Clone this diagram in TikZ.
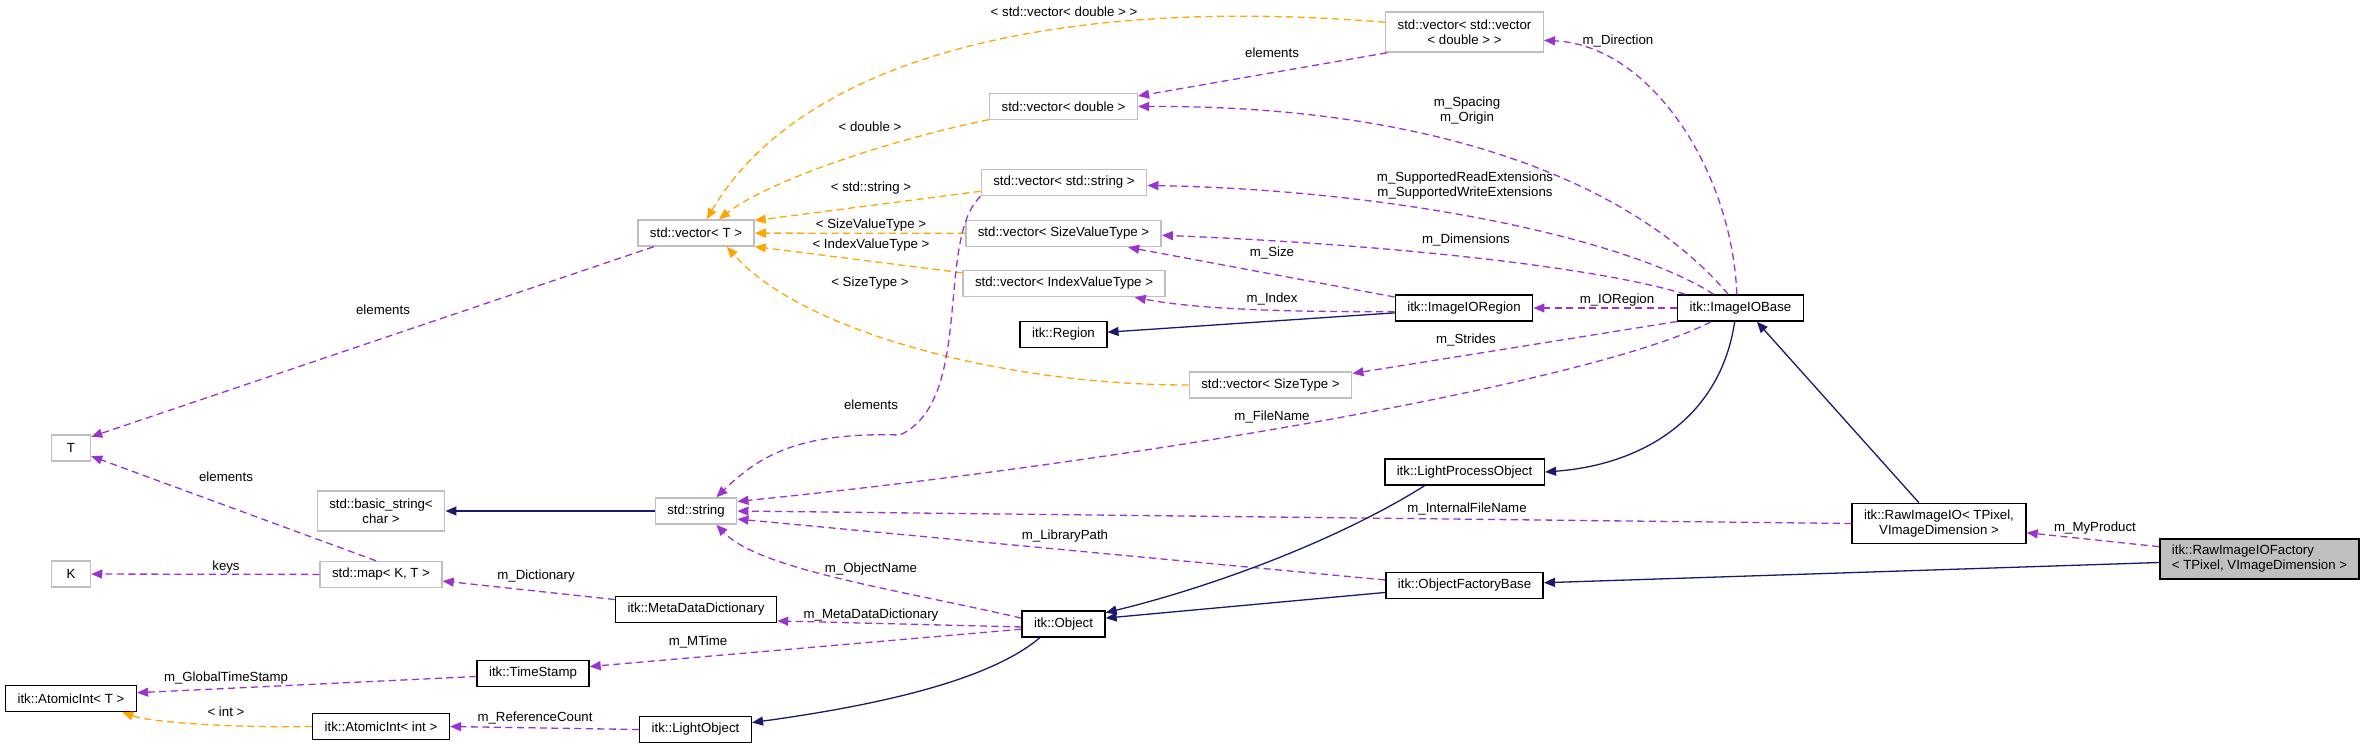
\documentclass[tikz,border=0pt]{standalone}
\usepackage{fontspec}
\setmainfont{Liberation Sans}
\usetikzlibrary{arrows.meta}
\definecolor{memcol}{HTML}{9A32CD}
\definecolor{tplcol}{HTML}{FFA500}
\definecolor{inhcol}{HTML}{191970}
\definecolor{boxgray}{HTML}{BFBFBF}
\tikzset{
    box/.style={draw=black, line width=1.5pt, minimum height=26pt, inner xsep=12pt, inner ysep=3pt},
    stdbox/.style={box, draw=boxgray},
    twoline/.style={align=center, minimum height=40pt},
    lbl/.style={inner sep=1pt, align=center},
    member/.style={draw=memcol, line width=1.3pt, dash pattern=on 7pt off 4.5pt, -{Triangle[length=11pt, width=9pt]}},
    tmpl/.style={draw=tplcol, line width=1.3pt, dash pattern=on 7pt off 4.5pt, -{Triangle[length=11pt, width=9pt]}},
    inherit/.style={draw=inhcol, line width=1.3pt, -{Triangle[length=11pt, width=9pt]}}
}

\begin{document}
\begin{tikzpicture}[x=1pt, y=-1pt, every node/.style={font=\fontsize{13.25}{15}\selectfont}]
    \useasboundingbox (0,0) rectangle (2364,748);

    \node[stdbox, twoline] (vecvec) at (1464.5,32) {std::vector< std::vector\\< double > >};
    \node[stdbox] (vecdbl) at (1063.5,106.5) {std::vector< double >};
    \node[stdbox] (vecstr) at (1064,182.5) {std::vector< std::string >};
    \node[stdbox] (vecsvt) at (1063.5,233.5) {std::vector< SizeValueType >};
    \node[stdbox] (vecivt) at (1064,283.5) {std::vector< IndexValueType >};
    \node[box] (region) at (1063.5,334.5) {itk::Region};
    \node[stdbox] (vecst) at (1270.5,385) {std::vector< SizeType >};
    \node[stdbox] (vecT) at (696,233) {std::vector< T >};
    \node[stdbox, minimum width=39pt] (tparam) at (71,448) {T};
    \node[stdbox, minimum width=39pt] (kparam) at (71,574) {K};
    \node[stdbox, twoline] (bstr) at (381,511) {std::basic\_string<\\char >};
    \node[stdbox] (str) at (696,511) {std::string};
    \node[stdbox] (map) at (381,574.5) {std::map< K, T >};
    \node[box] (mdd) at (696,609.5) {itk::MetaDataDictionary};
    \node[box] (ts) at (533,673.5) {itk::TimeStamp};
    \node[box] (aiT) at (71,698.5) {itk::AtomicInt< T >};
    \node[box] (aiint) at (381,726.5) {itk::AtomicInt< int >};
    \node[box] (lobj) at (695.5,729.5) {itk::LightObject};
    \node[box] (obj) at (1063.5,624) {itk::Object};
    \node[box] (ioregion) at (1464,308) {itk::ImageIORegion};
    \node[box] (iobase) at (1740.5,308) {itk::ImageIOBase};
    \node[box] (lpo) at (1464.5,472) {itk::LightProcessObject};
    \node[box] (ofb) at (1464.5,585.5) {itk::ObjectFactoryBase};
    \node[box, twoline] (rawio) at (1939,523.5) {itk::RawImageIO< TPixel,\\VImageDimension >};
    \node[box, twoline, align=left, fill=boxgray] (factory) at (2259.5,559) {itk::RawImageIOFactory\\< TPixel, VImageDimension >};

    \draw[tmpl] (vecvec.173) .. controls (1050,-5) and (800,60) .. (vecT.52);
    \draw[tmpl] (vecdbl.190) .. controls (890,140) and (770,180) .. (vecT.31);
    \draw[tmpl] (vecstr.186) -- (vecT.12);
    \draw[tmpl] (vecsvt) -- (vecT);
    \draw[tmpl] (vecivt.174) -- (vecT.-13);
    \draw[tmpl] (vecst.west) .. controls (1000,385) and (800,330) .. (vecT.-24);
    \draw[tmpl] (aiint.west) .. controls (230,728) and (150,722) .. (aiT.-15);

    \draw[member] (vecvec.195) -- (vecdbl.8);
    \draw[member] (iobase.105) .. controls (1732,170) and (1650,45) .. (vecvec.-6);
    \draw[member] (iobase.132) .. controls (1640,190) and (1450,105) .. (vecdbl.east);
    \draw[member] (iobase.153) .. controls (1630,240) and (1400,190) .. (vecstr.-2);
    \draw[member] (iobase.166) .. controls (1600,268) and (1400,245) .. (vecsvt.-1);
    \draw[member] (ioregion.171) -- (vecsvt.-12);
    \draw[member] (ioregion.183) .. controls (1300,312) and (1200,310) .. (vecivt.-11);
    \draw[member] (iobase) -- (ioregion);
    \draw[member] (iobase.192) -- (vecst.8);
    \draw[member] (iobase.205) .. controls (1600,380) and (1150,460) .. (str.13);
    \draw[member] (vecstr.south west) .. controls (935,240) and (975,400) .. (900,435)
        .. controls (800,432) and (760,455) .. (str.34);
    \draw[member] (rawio.west) -- (str.east);
    \draw[member] (ofb.176) -- (str.-11);
    \draw[member] (obj.172) .. controls (900,590) and (760,570) .. (str.-34);
    \draw[member] (obj.184) -- (mdd.-8);
    \draw[member] (obj.187) -- (ts.7);
    \draw[member] (mdd.173) -- (map.-6);
    \draw[member] (vecT.198) -- (tparam.29);
    \draw[member] (map.110) -- (tparam.-22);
    \draw[member] (map) -- (kparam);
    \draw[member] (ts.183) -- (aiT.5);
    \draw[member] (lobj.west) -- (aiint.east);
    \draw[member] (factory.173) -- (rawio.-6);

    \draw[inherit] (ioregion.184) -- (region.3);
    \draw[inherit] (str) -- (bstr);
    \draw[inherit] (iobase.247) .. controls (1720,420) and (1640,465) .. (lpo.east);
    \draw[inherit] (rawio.134) -- (iobase.320);
    \draw[inherit] (lpo.199) .. controls (1330,545) and (1200,590) .. (obj.15);
    \draw[inherit] (ofb.185) -- (obj.8);
    \draw[inherit] (obj.210) .. controls (990,680) and (880,705) .. (lobj.7);
    \draw[inherit] (factory.182) -- (ofb.2);

    \node[lbl] (lvecvec) at (1064,12) {< std::vector< double > >};
    \node[lbl] (lelemdbl) at (1272,53) {elements};
    \node[lbl] (lspacing) at (1467,111) {m\_Spacing\\m\_Origin};
    \node[lbl] (ldirection) at (1618,41) {m\_Direction};
    \node[lbl] (ldouble) at (870,127) {< double >};
    \node[lbl] (lstring) at (871,188) {< std::string >};
    \node[lbl] (lsvt) at (871,225) {< SizeValueType >};
    \node[lbl] (livt) at (871,245) {< IndexValueType >};
    \node[lbl] (lst) at (870,283) {< SizeType >};
    \node[lbl] (lext) at (1465,186) {m\_SupportedReadExtensions\\m\_SupportedWriteExtensions};
    \node[lbl] (ldims) at (1466,240) {m\_Dimensions};
    \node[lbl] (lsize) at (1272,253) {m\_Size};
    \node[lbl] (lindex) at (1272,299) {m\_Index};
    \node[lbl] (lioregion) at (1617,300) {m\_IORegion};
    \node[lbl] (lstrides) at (1466,340) {m\_Strides};
    \node[lbl] (lelemT) at (383,310) {elements};
    \node[lbl] (lelemmap) at (226,477) {elements};
    \node[lbl] (lkeys) at (226,567) {keys};
    \node[lbl] (ldict) at (536,576) {m\_Dictionary};
    \node[lbl] (lmtime) at (698,642) {m\_MTime};
    \node[lbl] (lglobal) at (226,678) {m\_GlobalTimeStamp};
    \node[lbl] (lint) at (226,712) {< int >};
    \node[lbl] (lrefcount) at (535,718) {m\_ReferenceCount};
    \node[lbl] (lelemstr) at (871,405) {elements};
    \node[lbl] (lfilename) at (1272,417) {m\_FileName};
    \node[lbl] (linternal) at (1467,509) {m\_InternalFileName};
    \node[lbl] (llibpath) at (1065,536) {m\_LibraryPath};
    \node[lbl] (lobjname) at (871,569) {m\_ObjectName};
    \node[lbl] (lmdd) at (871,615) {m\_MetaDataDictionary};
    \node[lbl] (lproduct) at (2095,528) {m\_MyProduct};
\end{tikzpicture}
\end{document}
